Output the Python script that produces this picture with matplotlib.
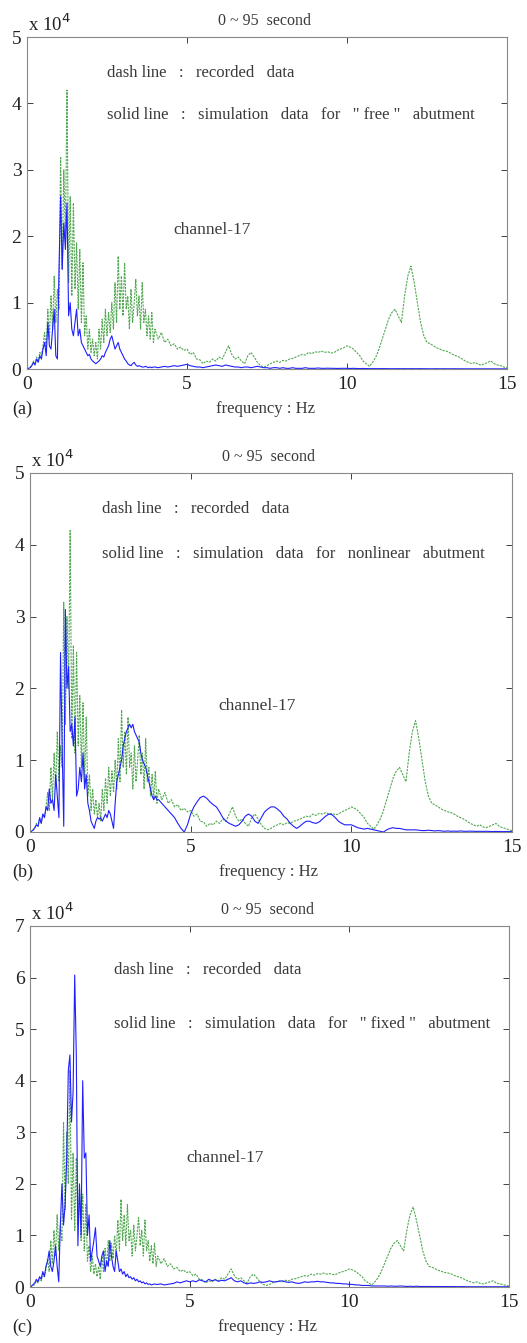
import numpy as np
import matplotlib
matplotlib.use('Agg')
import matplotlib.pyplot as plt

plt.rcParams['font.family'] = ['Liberation Serif', 'DejaVu Serif']

# frequency sampling (Hz): fine below 4 Hz, coarser above
freq = np.round(np.concatenate([np.arange(0, 4.0, 0.05), np.arange(4.0, 15.001, 0.1)]), 3)

# recorded spectrum (x 1e4), same in all three panels
recorded = [
    0, 0.01, 0.03, 0.05, 0.12, 0.08, 0.18, 0.12, 0.25, 0.2,
    0.35, 0.55, 0.3, 0.9, 0.45, 1.1, 0.6, 1.4, 0.7, 1.2,
    0.9, 3.2, 1.5, 3.0, 2.0, 4.2, 1.3, 2.6, 1.1, 2.5,
    1.2, 1.9, 0.9, 1.8, 0.7, 1.6, 0.5, 0.8, 0.3, 0.6,
    0.25, 0.45, 0.2, 0.4, 0.15, 0.6, 0.3, 0.75, 0.4, 0.9,
    0.5, 0.85, 0.55, 1.0, 0.6, 1.3, 0.7, 1.7, 0.9, 1.4,
    0.8, 1.6, 0.9, 1.1, 0.6, 1.2, 0.7, 1.0, 1.35, 0.8,
    1.1, 0.6, 1.3, 0.7, 0.9, 0.5, 0.8, 0.45, 0.85, 0.4,
    # 4.0 - 15.0
    0.6, 0.45, 0.55, 0.4, 0.45, 0.35, 0.38, 0.3, 0.33, 0.28,
    0.3, 0.22, 0.25, 0.15, 0.14, 0.08, 0.12, 0.1, 0.15, 0.12,
    0.18, 0.15, 0.25, 0.35, 0.22, 0.15, 0.18, 0.12, 0.08, 0.2,
    0.25, 0.18, 0.1, 0.05, 0.03, 0.05, 0.08, 0.1, 0.12, 0.1,
    0.13, 0.12, 0.15, 0.16, 0.18, 0.2, 0.22, 0.21, 0.25, 0.23,
    0.26, 0.25, 0.27, 0.25, 0.26, 0.24, 0.25, 0.28, 0.3, 0.32,
    0.35, 0.33, 0.3, 0.25, 0.2, 0.12, 0.08, 0.04, 0.1, 0.18,
    0.3, 0.45, 0.6, 0.75, 0.85, 0.9, 0.8, 0.7, 1.1, 1.4,
    1.55, 1.3, 1.0, 0.7, 0.5, 0.4, 0.38, 0.35, 0.32, 0.3,
    0.28, 0.27, 0.25, 0.22, 0.2, 0.18, 0.15, 0.12, 0.1, 0.08,
    0.1, 0.07, 0.06, 0.08, 0.1, 0.12, 0.08, 0.06, 0.05, 0.03,
    0.02,
]

# simulation, "free" abutment
sim_free = [
    0, 0.01, 0.02, 0.05, 0.1, 0.06, 0.15, 0.1, 0.2, 0.15,
    0.3, 0.4, 0.2, 0.7, 0.35, 0.3, 0.6, 0.9, 0.2, 0.15,
    1.5, 2.6, 1.5, 2.2, 1.8, 2.5, 0.8, 1.0, 0.6, 0.5,
    0.7, 0.9, 0.5, 0.6, 0.4, 0.35, 0.3, 0.25, 0.2, 0.22,
    0.15, 0.12, 0.1, 0.08, 0.1, 0.12, 0.15, 0.2, 0.18, 0.25,
    0.3, 0.35, 0.45, 0.5, 0.4, 0.3, 0.35, 0.4, 0.3, 0.25,
    0.2, 0.15, 0.12, 0.08, 0.06, 0.05, 0.08, 0.1, 0.06, 0.04,
    0.05, 0.04, 0.03, 0.03, 0.04, 0.03, 0.02, 0.03, 0.02, 0.03,
    # 4.0 - 15.0
    0.03, 0.02, 0.03, 0.04, 0.03, 0.04, 0.05, 0.04, 0.05, 0.06,
    0.07, 0.05, 0.04, 0.03, 0.03, 0.02, 0.03, 0.04, 0.05, 0.06,
    0.05, 0.04, 0.06, 0.05, 0.04, 0.03, 0.03, 0.02, 0.03, 0.03,
    0.02, 0.03, 0.04, 0.03, 0.02, 0.02, 0.01, 0.02, 0.02, 0.01,
    0.02, 0.01, 0.01, 0.02, 0.01, 0.01, 0.01, 0.02, 0.01, 0.01,
    0.01, 0.015, 0.01, 0.01, 0.012, 0.01, 0.01, 0.008, 0.01, 0.01,
    0.01, 0.008, 0.01, 0.008, 0.006, 0.008, 0.006, 0.005, 0.006, 0.005,
    0.005, 0.006, 0.005, 0.005, 0.004, 0.005, 0.005, 0.004, 0.005, 0.004,
    0.005, 0.004, 0.004, 0.005, 0.004, 0.004, 0.003, 0.004, 0.004, 0.003,
    0.004, 0.003, 0.003, 0.004, 0.003, 0.003, 0.003, 0.003, 0.002, 0.003,
    0.003, 0.002, 0.003, 0.002, 0.002, 0.003, 0.002, 0.002, 0.002, 0.002,
    0.002,
]

# simulation, nonlinear abutment
sim_nonlinear = [
    0, 0.01, 0.03, 0.06, 0.1, 0.08, 0.2, 0.12, 0.25, 0.2,
    0.35, 0.3, 0.6, 0.4, 0.45, 0.3, 0.8, 0.5, 0.2, 2.5,
    1.2, 0.08, 3.1, 2.0, 2.3, 1.4, 1.5, 1.2, 1.6, 0.5,
    0.6, 0.9, 0.7, 1.1, 0.6, 0.8, 0.4, 0.3, 0.15, 0.1,
    0.05, 0.15, 0.2, 0.18, 0.2, 0.15, 0.2, 0.25, 0.2, 0.3,
    0.25, 0.15, 0.05, 0.4, 0.7, 0.8, 0.9, 1.0, 1.2, 1.3,
    1.4, 1.45, 1.5, 1.45, 1.5, 1.4, 1.35, 1.3, 1.25, 1.1,
    1.0, 0.95, 0.9, 0.8, 0.7, 0.6, 0.5, 0.45, 0.5, 0.45,
    # 4.0 - 15.0
    0.45, 0.4, 0.35, 0.3, 0.25, 0.2, 0.12, 0.05, 0.0, 0.1,
    0.25, 0.35, 0.42, 0.48, 0.5, 0.47, 0.42, 0.38, 0.35, 0.28,
    0.2, 0.15, 0.12, 0.1, 0.08, 0.1, 0.15, 0.22, 0.25, 0.22,
    0.15, 0.12, 0.2, 0.28, 0.32, 0.35, 0.35, 0.32, 0.28, 0.22,
    0.18, 0.12, 0.08, 0.05, 0.08, 0.12, 0.15, 0.15, 0.13, 0.12,
    0.14, 0.18, 0.22, 0.25, 0.24, 0.2, 0.15, 0.12, 0.1, 0.1,
    0.1, 0.08, 0.06, 0.05, 0.04, 0.05, 0.04, 0.03, 0.02, 0.01,
    0.0, 0.03, 0.05, 0.06, 0.05, 0.05, 0.04, 0.03, 0.03, 0.03,
    0.03, 0.025, 0.02, 0.02, 0.025, 0.02, 0.015, 0.02, 0.015, 0.01,
    0.015, 0.01, 0.012, 0.01, 0.015, 0.01, 0.01, 0.012, 0.01, 0.008,
    0.01, 0.008, 0.01, 0.008, 0.006, 0.008, 0.006, 0.005, 0.006, 0.005,
    0.005,
]

# simulation, "fixed" abutment
sim_fixed = [
    0, 0.02, 0.05, 0.08, 0.15, 0.1, 0.2, 0.15, 0.3, 0.2,
    0.4, 0.5, 0.7, 0.4, 0.3, 0.5, 0.8, 0.4, 0.1, 1.2,
    2.0, 1.2, 1.6, 2.5, 4.2, 4.5, 3.2, 3.8, 6.05, 4.5,
    0.8, 2.0, 1.0, 4.0, 2.5, 2.6, 1.0, 1.4, 0.5, 0.7,
    0.9, 1.15, 0.6, 0.5, 0.4, 0.6, 0.7, 0.3, 0.5, 0.4,
    0.9, 0.6, 0.4, 0.3, 0.7, 0.5, 0.3, 0.35, 0.25, 0.3,
    0.2, 0.25, 0.18, 0.2, 0.15, 0.18, 0.12, 0.15, 0.1, 0.12,
    0.08, 0.1, 0.06, 0.08, 0.05, 0.06, 0.04, 0.05, 0.06, 0.05,
    # 4.0 - 15.0
    0.05, 0.06, 0.04, 0.05, 0.06, 0.07, 0.1, 0.08, 0.1, 0.12,
    0.1, 0.12, 0.1, 0.14, 0.12, 0.1, 0.15, 0.12, 0.14, 0.11,
    0.13, 0.12, 0.15, 0.18, 0.12, 0.1, 0.12, 0.08, 0.06, 0.08,
    0.07, 0.08, 0.1, 0.09, 0.1, 0.12, 0.1, 0.1, 0.11, 0.12,
    0.1, 0.09, 0.1, 0.08, 0.07, 0.08, 0.1, 0.09, 0.1, 0.1,
    0.11, 0.1, 0.1, 0.09, 0.08, 0.08, 0.07, 0.07, 0.06, 0.06,
    0.05, 0.05, 0.04, 0.04, 0.03, 0.03, 0.03, 0.02, 0.02, 0.02,
    0.02, 0.02, 0.015, 0.02, 0.015, 0.015, 0.02, 0.015, 0.01, 0.015,
    0.01, 0.015, 0.01, 0.01, 0.012, 0.01, 0.01, 0.008, 0.01, 0.01,
    0.01, 0.008, 0.01, 0.008, 0.006, 0.008, 0.006, 0.005, 0.006, 0.005,
    0.005, 0.006, 0.005, 0.005, 0.004, 0.005, 0.005, 0.004, 0.005, 0.004,
    0.004,
]

panels = ['(a)', '(b)', '(c)']
sims = [sim_free, sim_nonlinear, sim_fixed]
sim_labels = ['solid line   :   simulation   data   for   " free "   abutment',
              'solid line   :   simulation   data   for   nonlinear   abutment',
              'solid line   :   simulation   data   for   " fixed "   abutment']
ymax = [5, 5, 7]

W, H = 527, 1343
# axes boxes in pixels: left, top, right, bottom
boxes = [(27, 37, 507, 369), (30, 473, 512, 832), (30, 926, 509, 1287)]
# text anchors in pixels
dash_pos = [(107, 73), (102, 509), (114, 970)]
solid_pos = [(107, 115), (102, 554), (114, 1024)]
chan_pos = [(173, 230), (218, 706), (186, 1158)]
txt = '#3a3a3a'


def fx(x):
    return x / W


def fy(y):
    return 1 - y / H


fig = plt.figure(figsize=(W / 100, H / 100), dpi=100)

for i in range(3):
    l, t, r, b = boxes[i]
    ax = fig.add_axes([fx(l), fy(b), (r - l) / W, (b - t) / H])
    ax.plot(freq, recorded, color='#3f9f3f', lw=0.8, ls=(0, (2, 1)), alpha=0.9)
    ax.plot(freq, sims[i], color='#1f1fff', lw=0.8)
    ax.set_xlim(0, 15)
    ax.set_ylim(0, ymax[i])
    ax.set_xticks([0, 5, 10, 15])
    ax.set_yticks(range(0, ymax[i] + 1))
    ax.tick_params(direction='in', top=True, right=True, length=4, width=0.6,
                   labelsize=14, colors='#222')
    ax.tick_params(axis='x', pad=5)
    ax.tick_params(axis='y', pad=4)
    for sp in ax.spines.values():
        sp.set_color('#888')
        sp.set_linewidth(0.8)

    fig.text(fx(l + 1), fy(t - 2), r'x 10$^4$', fontsize=13.5, color='#222',
             ha='left', va='bottom')
    fig.text(fx((l + r) / 2 - 2), fy(t - 8), '0 ~ 95  second', fontsize=11.5,
             color=txt, ha='center', va='bottom')
    fig.text(fx(dash_pos[i][0]), fy(dash_pos[i][1]), 'dash line   :   recorded   data',
             fontsize=12, color=txt, ha='left', va='center')
    fig.text(fx(solid_pos[i][0]), fy(solid_pos[i][1]), sim_labels[i],
             fontsize=12, color=txt, ha='left', va='center')
    fig.text(fx(chan_pos[i][0]), fy(chan_pos[i][1]), 'channel-17',
             fontsize=12.5, color=txt, ha='left', va='center')
    fig.text(fx(12), fy(b + 40), panels[i], fontsize=13, color='#222',
             ha='left', va='center')
    fig.text(fx((l + r) / 2 - 2), fy(b + 40), 'frequency : Hz', fontsize=12,
             color=txt, ha='center', va='center')

fig.savefig('out.png', dpi=100)
